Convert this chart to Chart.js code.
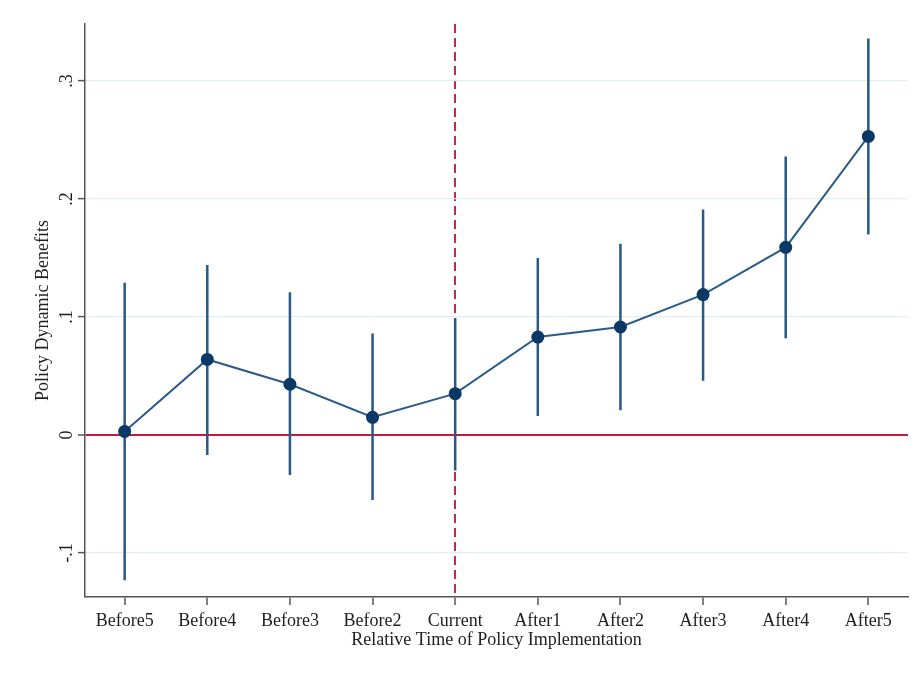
<!DOCTYPE html>
<html>
<head>
<meta charset="utf-8">
<script src="https://cdn.jsdelivr.net/npm/chart.js@4.4.1/dist/chart.umd.min.js"></script>
<style>
  html, body { margin: 0; padding: 0; background: #fff; }
  #wrap { width: 919px; height: 673px; }
</style>
</head>
<body>
<div id="wrap"><canvas id="chart"></canvas></div>
<script>
// Event-study estimates
const categories = ['Before5', 'Before4', 'Before3', 'Before2', 'Current', 'After1', 'After2', 'After3', 'After4', 'After5'];
const estimates = [0.003, 0.064, 0.043, 0.015, 0.035, 0.083, 0.0915, 0.119, 0.159, 0.253];
const ciLower = [-0.123, -0.017, -0.034, -0.055, -0.030, 0.016, 0.021, 0.046, 0.082, 0.170];
const ciUpper = [0.129, 0.144, 0.121, 0.086, 0.099, 0.150, 0.162, 0.191, 0.236, 0.336];
const yTicks = [-0.1, 0, 0.1, 0.2, 0.3];
const policyIndex = 4; // "Current"

const FONT = 'Liberation Serif, Times New Roman, serif';

// error bars: one segment per category, broken by null gaps
const ciPoints = [];
categories.forEach((c, i) => {
    ciPoints.push({ x: i, y: ciLower[i] }, { x: i, y: ciUpper[i] }, { x: i, y: null });
});

const fmtTick = v => {
    if (v === 0) return '0';
    return (v < 0 ? '-' : '') + Math.abs(v).toFixed(1).replace(/^0/, '');
};

new Chart(document.getElementById('chart'), {
    type: 'line',
    data: {
        datasets: [
            {
                label: 'Estimate',
                data: estimates.map((v, i) => ({ x: i, y: v })),
                borderColor: '#2c5b8b',
                borderWidth: 2,
                pointRadius: 6.5,
                pointBackgroundColor: '#0b3865',
                pointBorderColor: '#0b3865',
                pointBorderWidth: 0,
                tension: 0,
                order: 0
            },
            {
                label: '95% CI',
                data: ciPoints,
                borderColor: '#285886',
                borderWidth: 2.5,
                pointRadius: 0,
                spanGaps: false,
                order: 1
            }
        ]
    },
    options: {
        responsive: true,
        maintainAspectRatio: false,
        animation: false,
        layout: { padding: { top: 24, right: 11, left: 0, bottom: 0 } },
        plugins: { legend: { display: false }, tooltip: { enabled: false } },
        scales: {
            x: {
                type: 'linear',
                min: -0.48,
                max: 9.48,
                afterBuildTicks: s => { s.ticks = categories.map((c, i) => ({ value: i })); },
                afterFit: s => { s.height = 76; },
                ticks: {
                    callback: v => categories[v],
                    color: '#1e1e1e',
                    font: { family: FONT, size: 18 },
                    padding: 5,
                    maxRotation: 0,
                    autoSkip: false
                },
                grid: {
                    color: ctx => ctx.tick && ctx.tick.value === policyIndex ? '#d2214b' : 'rgba(0,0,0,0)',
                    lineWidth: 2,
                    tickColor: '#555',
                    tickLength: 8,
                    tickWidth: 1.5
                },
                border: { color: '#555', width: 1.5, dash: [9, 5] },
                title: {
                    display: true,
                    text: 'Relative Time of Policy Implementation',
                    color: '#1e1e1e',
                    font: { family: FONT, size: 18 },
                    padding: { top: 0, bottom: 22 }
                }
            },
            y: {
                min: -0.1373,
                max: 0.3483,
                afterBuildTicks: s => { s.ticks = yTicks.map(v => ({ value: v })); },
                afterFit: s => { s.width = 85; },
                ticks: {
                    callback: v => fmtTick(v),
                    color: '#1e1e1e',
                    font: { family: FONT, size: 18 },
                    minRotation: 90,
                    maxRotation: 90,
                    crossAlign: 'center',
                    padding: 1
                },
                grid: {
                    color: ctx => ctx.tick && ctx.tick.value === 0 ? '#c8193c' : '#e2edf4',
                    lineWidth: ctx => ctx.tick && ctx.tick.value === 0 ? 2 : 1.2,
                    tickColor: '#555',
                    tickLength: 7,
                    tickWidth: 1.5
                },
                border: { color: '#555', width: 1.5 },
                title: {
                    display: true,
                    text: 'Policy Dynamic Benefits',
                    color: '#1e1e1e',
                    font: { family: FONT, size: 18 },
                    padding: { top: 32, bottom: 0 }
                }
            }
        }
    }
});
</script>
</body>
</html>
